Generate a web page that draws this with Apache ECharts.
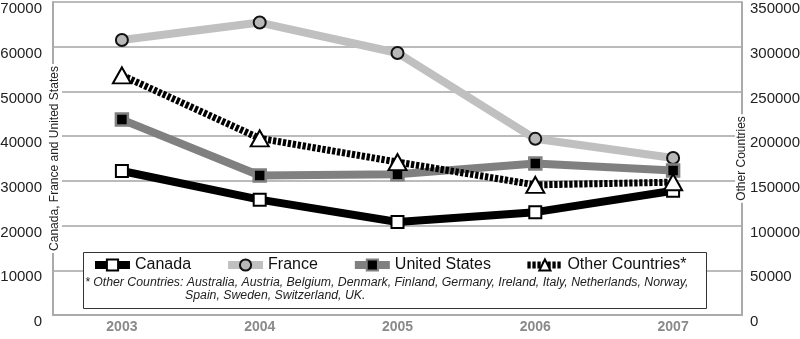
<!DOCTYPE html>
<html>
<head>
<meta charset="utf-8">
<script src="https://cdn.jsdelivr.net/npm/echarts@6/dist/echarts.min.js"></script>
<style>html,body{margin:0;padding:0;background:#fff}#c{width:800px;height:339px}</style>
</head>
<body>
<div id="c"></div>
<script>
var years = ['2003', '2004', '2005', '2006', '2007'];
var canada = [32200, 25800, 20800, 23000, 27800];
var france = [61500, 65400, 58600, 39400, 35100];
var unitedStates = [43700, 31200, 31500, 33900, 32300];
var otherCountries = [268000, 197500, 171000, 145500, 148500];
var leftTicks = { min: 0, max: 70000, interval: 10000 };
var rightTicks = { min: 0, max: 350000, interval: 50000 };
var leftAxisName = 'Canada, France and United States';
var rightAxisName = 'Other Countries';
var footLine1 = '* Other Countries: Australia, Austria, Belgium, Denmark, Finland, Germany, Ireland, Italy, Netherlands, Norway,';
var footLine2 = 'Spain, Sweden, Switzerland, UK.';

var FONT = 'Liberation Sans, Arial, sans-serif';
var plain = function (v) { return String(v); };
var nameText = function (txt, x) {
  return { type: 'text', z: 8, x: x, y: 158.5, rotation: Math.PI / 2,
    style: { text: txt, font: '12px Liberation Sans, Arial, sans-serif', fill: '#222', align: 'center', verticalAlign: 'middle', backgroundColor: '#fff', padding: [1, 2] } };
};
var chart = echarts.init(document.getElementById('c'));
chart.setOption({
  animation: false,
  textStyle: { fontFamily: FONT },
  grid: { left: 53, right: 58, top: 2, bottom: 24, containLabel: false, outerBoundsMode: 'none' },
  xAxis: {
    type: 'category', data: years, boundaryGap: true,
    axisLine: { lineStyle: { color: '#aaa', width: 2 } },
    axisTick: { show: false },
    axisLabel: { color: '#8a8a8a', fontWeight: 'bold', fontSize: 14, margin: 5, fontFamily: FONT }
  },
  yAxis: [{
    type: 'value', min: leftTicks.min, max: leftTicks.max, interval: leftTicks.interval,
    axisLine: { show: true, lineStyle: { color: '#aaa', width: 2 } },
    axisTick: { show: false },
    axisLabel: { color: '#222', fontSize: 15, margin: 11, verticalAlign: 'top', lineHeight: 14, fontFamily: FONT, formatter: plain },
    splitLine: { show: true, lineStyle: { color: '#bbb', width: 2 } }
  }, {
    type: 'value', min: rightTicks.min, max: rightTicks.max, interval: rightTicks.interval,
    axisLine: { show: true, lineStyle: { color: '#aaa', width: 2 } },
    axisTick: { show: false },
    axisLabel: { color: '#222', fontSize: 15, margin: 8, verticalAlign: 'top', lineHeight: 14, fontFamily: FONT, formatter: plain },
    splitLine: { show: false }
  }],
  legend: {
    data: [
      { name: 'Canada', lineStyle: { width: 8 } },
      { name: 'France', lineStyle: { width: 8 } },
      { name: 'United States', lineStyle: { width: 8 } },
      { name: 'Other Countries*', lineStyle: { width: 7 } }
    ],
    left: 91, top: 257, padding: 0, itemGap: 33, itemWidth: 35, itemHeight: 14,
    textStyle: { fontSize: 16, color: '#111', fontFamily: FONT },
    z: 6
  },
  graphic: [
    nameText(leftAxisName, 55),
    nameText(rightAxisName, 742),
    { type: 'rect', z: 5, shape: { x: 83.5, y: 252.5, width: 623, height: 56 }, style: { fill: '#fff', stroke: '#333', lineWidth: 1 } },
    { type: 'text', z: 7, left: 85, top: 277, style: { text: footLine1, font: 'italic 12.3px Liberation Sans, Arial, sans-serif', fill: '#222' } },
    { type: 'text', z: 7, left: 185, top: 290, style: { text: footLine2, font: 'italic 12.3px Liberation Sans, Arial, sans-serif', fill: '#222' } }
  ],
  series: [{
    name: 'France', type: 'line', data: france, yAxisIndex: 0, z: 2,
    symbol: 'circle', symbolSize: 12,
    lineStyle: { color: '#c0c0c0', width: 8 },
    itemStyle: { color: '#b8b8b8', borderColor: '#111', borderWidth: 2 }
  }, {
    name: 'United States', type: 'line', data: unitedStates, yAxisIndex: 0, z: 3,
    symbol: 'rect', symbolSize: 12,
    lineStyle: { color: '#808080', width: 8 },
    itemStyle: { color: '#000', borderColor: '#808080', borderWidth: 2.5 }
  }, {
    name: 'Canada', type: 'line', data: canada, yAxisIndex: 0, z: 4,
    symbol: 'rect', symbolSize: 12,
    lineStyle: { color: '#000', width: 8 },
    itemStyle: { color: '#fff', borderColor: '#000', borderWidth: 2 }
  }, {
    name: 'Other Countries*', type: 'line', data: otherCountries, yAxisIndex: 1, z: 5,
    symbol: 'triangle', symbolSize: [18, 16],
    lineStyle: { color: '#000', width: 7, type: [3.3, 1.7] },
    itemStyle: { color: '#fff', borderColor: '#000', borderWidth: 2 }
  }]
});
</script>
</body>
</html>
